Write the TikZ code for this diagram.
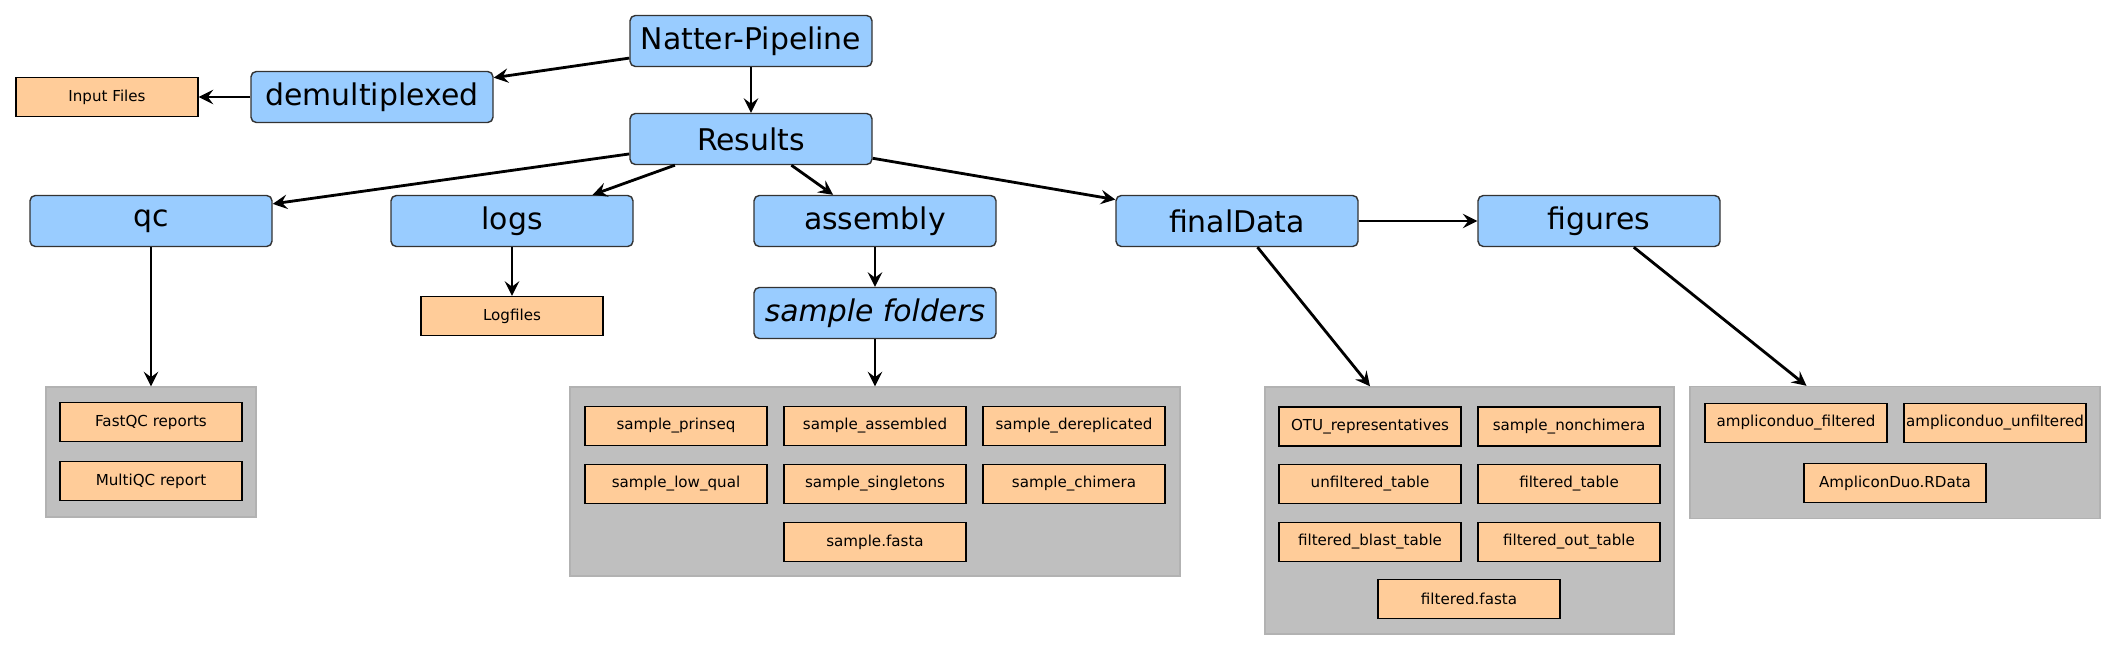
\documentclass[tikz,border=0pt]{standalone}
\usepackage{fontspec}
\setmainfont{DejaVu Sans}
\definecolor{boxblue}{RGB}{153,204,255}
\definecolor{fileorange}{RGB}{255,204,153}
\definecolor{grpgray}{RGB}{191,191,191}
\begin{document}
\begin{tikzpicture}[>=stealth,
  dir/.style={draw=black!80, fill=boxblue, rounded corners=1.5pt, minimum width=2.42cm, minimum height=0.51cm, inner sep=0pt, font=\fontsize{8.5}{10}\selectfont},
  file/.style={draw, thin, fill=fileorange, minimum width=1.82cm, minimum height=0.39cm, inner sep=0pt, font=\fontsize{4.3}{5}\selectfont},
  grp/.style={draw=black!30, fill=grpgray, inner sep=0pt},
  link/.style={->, thick}]
\useasboundingbox (0,0) rectangle (21.17,-6.5);
%
\node[dir] (natter) at (7.51,-0.41) {Natter-Pipeline};
\node[dir] (demux) at (3.72,-0.97) {demultiplexed};
\node[file] (inputf) at (1.07,-0.97) {Input Files};
\node[dir] (res) at (7.51,-1.39) {Results};
%
\node[dir] (qc) at (1.51,-2.21) {qc};
\node[dir] (logs) at (5.12,-2.21) {logs};
\node[dir] (asm) at (8.75,-2.21) {assembly};
\node[dir] (fin) at (12.37,-2.21) {finalData};
\node[dir] (figs) at (15.99,-2.21) {figures};
%
\node[file] (logf) at (5.12,-3.16) {Logfiles};
\node[dir, font=\fontsize{8.5}{10}\selectfont\itshape] (sfold) at (8.75,-3.13) {sample folders};
%
\node[grp, minimum width=2.10cm, minimum height=1.30cm] (qcgrp) at (1.51,-4.52) {};
\node[file] (fastqc) at (1.51,-4.22) {FastQC reports};
\node[file] (multiqc) at (1.51,-4.81) {MultiQC report};
%
\node[grp, minimum width=6.10cm, minimum height=1.89cm] (asmgrp) at (8.75,-4.815) {};
\node[file] (sprin) at (6.76,-4.26) {sample\_prinseq};
\node[file] (sasm) at (8.75,-4.26) {sample\_assembled};
\node[file] (sderep) at (10.74,-4.26) {sample\_dereplicated};
\node[file] (slow) at (6.76,-4.84) {sample\_low\_qual};
\node[file] (ssing) at (8.75,-4.84) {sample\_singletons};
\node[file] (schim) at (10.74,-4.84) {sample\_chimera};
\node[file] (sfasta) at (8.75,-5.42) {sample.fasta};
%
\node[grp, minimum width=4.09cm, minimum height=2.47cm] (fingrp) at (14.695,-5.105) {};
\node[file] (otu) at (13.70,-4.265) {OTU\_representatives};
\node[file] (snonchim) at (15.69,-4.265) {sample\_nonchimera};
\node[file] (unfilt) at (13.70,-4.84) {unfiltered\_table};
\node[file] (filt) at (15.69,-4.84) {filtered\_table};
\node[file] (fblast) at (13.70,-5.42) {filtered\_blast\_table};
\node[file] (fout) at (15.69,-5.42) {filtered\_out\_table};
\node[file] (ffasta) at (14.69,-5.99) {filtered.fasta};
%
\node[grp, minimum width=4.10cm, minimum height=1.32cm] (figgrp) at (18.95,-4.525) {};
\node[file] (ampf) at (17.96,-4.23) {ampliconduo\_filtered};
\node[file] (ampu) at (19.95,-4.23) {ampliconduo\_unfiltered};
\node[file] (rdata) at (18.95,-4.83) {AmpliconDuo.RData};
%
\draw[link] (natter.188) -- (demux.9);
\draw[link] (demux.west) -- (inputf.east);
\draw[link] (natter.south) -- (res.north);
%
\draw[link] (res.187) -- (qc.8.5);
\draw[link] (res.199) -- (logs.18);
\draw[link] (res.-33) -- (asm.148);
\draw[link] (res.-9) -- (fin.170);
\draw[link] (fin.east) -- (figs.west);
%
\draw[link] (qc.south) -- (qcgrp.north);
\draw[link] (logs.south) -- (logf.north);
\draw[link] (asm.south) -- (sfold.north);
\draw[link] (sfold.south) -- (asmgrp.north);
\draw[link] (fin.-52) -- (otu.north |- fingrp.north);
\draw[link] (figs.-37) -- (figgrp.143);
\end{tikzpicture}
\end{document}
